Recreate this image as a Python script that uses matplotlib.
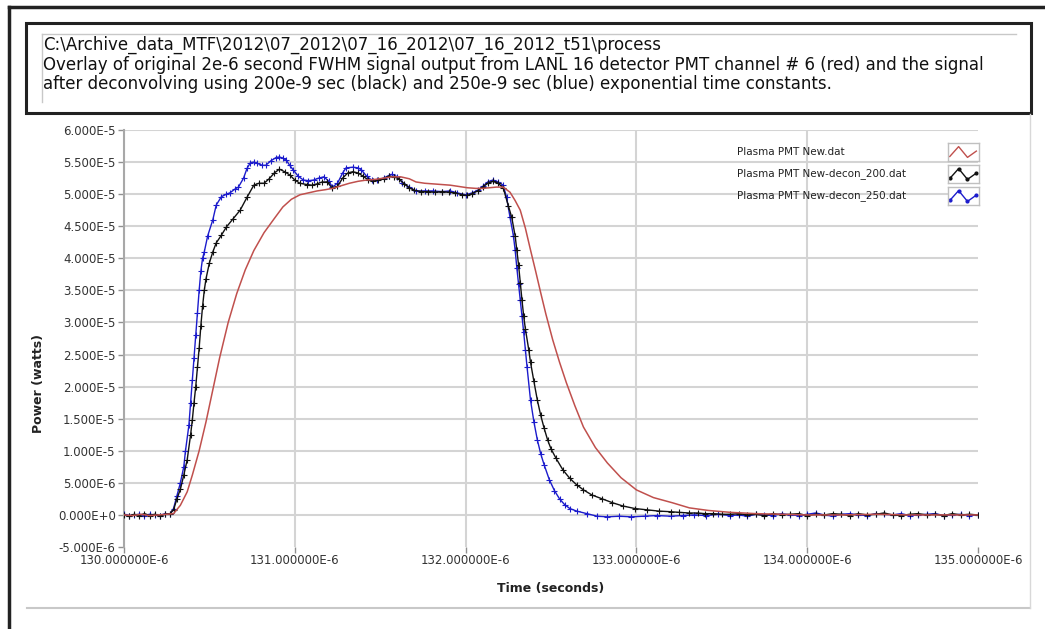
import numpy as np
import matplotlib
matplotlib.use('Agg')
import matplotlib.pyplot as plt
from matplotlib.patches import Rectangle
from matplotlib.lines import Line2D

# judul dan label
title_lines = [
    r'C:\Archive_data_MTF\2012\07_2012\07_16_2012\07_16_2012_t51\process',
    'Overlay of original 2e-6 second FWHM signal output from LANL 16 detector PMT channel # 6 (red) and the signal',
    'after deconvolving using 200e-9 sec (black) and 250e-9 sec (blue) exponential time constants.',
]
series_names = ['Plasma PMT New.dat', 'Plasma PMT New-decon_200.dat', 'Plasma PMT New-decon_250.dat']

x_ticks_us = [130, 131, 132, 133, 134, 135]
x_tick_labels = ['130.000000E-6', '131.000000E-6', '132.000000E-6',
                 '133.000000E-6', '134.000000E-6', '135.000000E-6']
y_ticks = [-5e-6, 0, 5e-6, 1e-5, 1.5e-5, 2e-5, 2.5e-5, 3e-5, 3.5e-5,
           4e-5, 4.5e-5, 5e-5, 5.5e-5, 6e-5]
y_tick_labels = ['-5.000E-6', '0.000E+0', '5.000E-6', '1.000E-5', '1.500E-5',
                 '2.000E-5', '2.500E-5', '3.000E-5', '3.500E-5', '4.000E-5',
                 '4.500E-5', '5.000E-5', '5.500E-5', '6.000E-5']

# sinyal asli (merah): waktu dalam mikrodetik, daya dalam 1e-5 W
red_t = [130.00, 130.05, 130.10, 130.15, 130.20, 130.25, 130.29, 130.33, 130.37, 130.40,
         130.44, 130.48, 130.52, 130.56, 130.61, 130.66, 130.71, 130.76, 130.82, 130.88,
         130.93, 130.98, 131.03, 131.08, 131.13, 131.18, 131.22, 131.27, 131.32, 131.37,
         131.42, 131.47, 131.52, 131.57, 131.62, 131.67, 131.71, 131.76, 131.81, 131.86,
         131.91, 131.96, 132.01, 132.06, 132.10, 132.14, 132.18, 132.22, 132.26, 132.29,
         132.32, 132.35, 132.38, 132.41, 132.44, 132.47, 132.51, 132.55, 132.59, 132.64,
         132.69, 132.76, 132.83, 132.91, 133.00, 133.10, 133.21, 133.31, 133.42, 133.55,
         133.70, 133.85, 134.00, 134.20, 134.40, 134.60, 134.80, 135.00]
red_p = [0.00, -0.01, 0.01, -0.01, 0.00, 0.01, 0.02, 0.15, 0.36, 0.62,
         1.00, 1.45, 1.95, 2.45, 3.00, 3.45, 3.82, 4.12, 4.40, 4.62,
         4.80, 4.92, 4.99, 5.02, 5.05, 5.07, 5.09, 5.13, 5.17, 5.20,
         5.22, 5.23, 5.25, 5.27, 5.27, 5.24, 5.19, 5.17, 5.16, 5.15,
         5.14, 5.12, 5.10, 5.09, 5.09, 5.10, 5.11, 5.11, 5.03, 4.90,
         4.75, 4.47, 4.13, 3.80, 3.46, 3.13, 2.73, 2.38, 2.06, 1.70,
         1.37, 1.05, 0.81, 0.58, 0.39, 0.27, 0.19, 0.11, 0.07, 0.04,
         0.02, 0.01, 0.00, 0.00, 0.01, 0.00, 0.00, 0.00]

# dekonvolusi 200e-9 (hitam)
black_t = [130.00, 130.03, 130.06, 130.09, 130.12, 130.15, 130.18, 130.21, 130.24, 130.27,
           130.29, 130.31, 130.33, 130.35, 130.37, 130.39, 130.40, 130.41, 130.42, 130.43,
           130.44, 130.45, 130.46, 130.47, 130.48, 130.50, 130.52, 130.54, 130.57, 130.60,
           130.64, 130.68, 130.72, 130.76, 130.79, 130.82, 130.85, 130.88, 130.91, 130.94,
           130.97, 131.00, 131.03, 131.07, 131.10, 131.13, 131.16, 131.19, 131.22, 131.25,
           131.28, 131.31, 131.34, 131.37, 131.40, 131.43, 131.46, 131.49, 131.52, 131.55,
           131.58, 131.61, 131.64, 131.67, 131.70, 131.74, 131.78, 131.82, 131.86, 131.90,
           131.94, 131.98, 132.01, 132.04, 132.07, 132.10, 132.13, 132.16, 132.19, 132.22,
           132.25, 132.27, 132.29, 132.30, 132.31, 132.32, 132.33, 132.34, 132.35, 132.37,
           132.38, 132.40, 132.42, 132.44, 132.46, 132.48, 132.50, 132.53, 132.57, 132.61,
           132.65, 132.69, 132.74, 132.80, 132.86, 132.92, 132.99, 133.06, 133.13, 133.20,
           133.25, 133.31, 133.36, 133.40, 133.45, 133.50,
           133.55, 133.60, 133.65, 133.70, 133.75, 133.80, 133.85, 133.90, 133.95, 134.00,
           134.05, 134.10, 134.15, 134.20, 134.25, 134.30, 134.35, 134.40, 134.45, 134.50,
           134.55, 134.60, 134.65, 134.70, 134.75, 134.80, 134.85, 134.90, 134.95, 135.00]
black_p = [0.00, -0.02, 0.01, -0.01, 0.02, -0.01, 0.01, -0.02, 0.01, 0.02,
           0.08, 0.25, 0.40, 0.62, 0.86, 1.25, 1.48, 1.75, 2.00, 2.30,
           2.60, 2.95, 3.25, 3.50, 3.68, 3.93, 4.10, 4.24, 4.36, 4.49,
           4.62, 4.75, 4.95, 5.14, 5.17, 5.17, 5.24, 5.33, 5.39, 5.35,
           5.30, 5.22, 5.17, 5.15, 5.14, 5.16, 5.19, 5.19, 5.09, 5.12,
           5.25, 5.33, 5.35, 5.33, 5.28, 5.22, 5.20, 5.22, 5.24, 5.28,
           5.27, 5.24, 5.16, 5.10, 5.06, 5.04, 5.04, 5.03, 5.04, 5.03,
           5.02, 4.99, 4.98, 5.01, 5.05, 5.11, 5.17, 5.20, 5.17, 5.10,
           4.82, 4.64, 4.35, 4.13, 3.90, 3.62, 3.35, 3.10, 2.90, 2.57,
           2.38, 2.08, 1.79, 1.55, 1.35, 1.17, 1.03, 0.88, 0.70, 0.57,
           0.47, 0.39, 0.31, 0.25, 0.19, 0.14, 0.10, 0.08, 0.06, 0.05,
           0.04, 0.03, 0.03, 0.02, 0.02, 0.01,
           0.01, 0.02, 0.00, 0.01, -0.01, 0.02, 0.00, 0.01, 0.02, -0.01,
           0.01, 0.00, 0.02, 0.01, -0.01, 0.02, 0.00, 0.01, 0.03, 0.00,
           -0.01, 0.01, 0.02, 0.00, 0.01, -0.01, 0.02, 0.00, 0.01, 0.00]

# dekonvolusi 250e-9 (biru)
blue_t = [130.00, 130.03, 130.06, 130.09, 130.12, 130.15, 130.18, 130.21, 130.24, 130.27,
          130.29, 130.31, 130.33, 130.35, 130.36, 130.38, 130.39, 130.40, 130.41, 130.42,
          130.43, 130.44, 130.45, 130.46, 130.47, 130.49, 130.52, 130.54, 130.57, 130.60,
          130.62, 130.65, 130.67, 130.70, 130.72, 130.74, 130.76, 130.78, 130.81, 130.83,
          130.86, 130.89, 130.91, 130.93, 130.95, 130.97, 130.99, 131.02, 131.05, 131.08,
          131.11, 131.14, 131.17, 131.20, 131.22, 131.25, 131.28, 131.30, 131.34, 131.37,
          131.39, 131.42, 131.45, 131.48, 131.52, 131.55, 131.57, 131.60, 131.63, 131.67,
          131.71, 131.76, 131.81, 131.86, 131.91, 131.95, 132.00, 132.04, 132.07, 132.10,
          132.13, 132.16, 132.19, 132.22, 132.24, 132.26, 132.28, 132.29, 132.30, 132.31,
          132.32, 132.33, 132.34, 132.35, 132.36, 132.38, 132.40, 132.42, 132.44, 132.46,
          132.49, 132.52, 132.55, 132.58, 132.61, 132.65, 132.71, 132.77, 132.83, 132.90,
          132.97, 133.05, 133.12, 133.20, 133.27, 133.34, 133.41, 133.48,
          133.55, 133.60, 133.65, 133.70, 133.75, 133.80, 133.85, 133.90, 133.95, 134.00,
          134.05, 134.10, 134.15, 134.20, 134.25, 134.30, 134.35, 134.40, 134.45, 134.50,
          134.55, 134.60, 134.65, 134.70, 134.75, 134.80, 134.85, 134.90, 134.95, 135.00]
blue_p = [0.01, -0.01, 0.00, 0.01, -0.01, 0.01, 0.00, -0.01, 0.02, 0.01,
          0.10, 0.30, 0.50, 0.75, 1.00, 1.40, 1.75, 2.10, 2.45, 2.80,
          3.15, 3.50, 3.80, 4.00, 4.10, 4.35, 4.60, 4.83, 4.96, 5.00,
          5.02, 5.08, 5.11, 5.25, 5.40, 5.49, 5.50, 5.48, 5.45, 5.45,
          5.52, 5.57, 5.58, 5.56, 5.53, 5.45, 5.38, 5.28, 5.22, 5.21,
          5.22, 5.25, 5.27, 5.20, 5.11, 5.17, 5.33, 5.41, 5.42, 5.41,
          5.38, 5.28, 5.22, 5.22, 5.25, 5.29, 5.31, 5.27, 5.18, 5.11,
          5.05, 5.05, 5.05, 5.04, 5.05, 5.02, 4.99, 5.02, 5.06, 5.12,
          5.19, 5.22, 5.19, 5.14, 4.95, 4.64, 4.35, 4.13, 3.85, 3.60,
          3.35, 3.10, 2.85, 2.57, 2.30, 1.79, 1.45, 1.17, 0.95, 0.78,
          0.55, 0.38, 0.25, 0.16, 0.10, 0.06, 0.02, -0.02, -0.03, -0.02,
          -0.03, -0.02, -0.01, -0.02, -0.01, 0.00, -0.01, 0.01,
          -0.01, 0.00, -0.02, 0.01, 0.00, -0.01, 0.02, 0.00, -0.01, 0.01,
          0.03, 0.00, -0.02, 0.01, 0.02, 0.00, -0.01, 0.02, 0.01, 0.00,
          0.02, -0.01, 0.00, 0.01, 0.02, -0.01, 0.00, 0.01, -0.01, 0.00]

red_color = '#c0504d'
black_color = '#111111'
blue_color = '#1c1ccc'

W, H = 1045, 629
fig = plt.figure(figsize=(W / 100, H / 100), dpi=100)
fig.patch.set_facecolor('white')


def fx(x):
    return x / W


def fy(y):
    return 1 - y / H


# bingkai luar
fig.add_artist(Line2D([fx(9), 1], [fy(7), fy(7)], color='#222222', lw=2.5))
fig.add_artist(Line2D([fx(9), fx(9)], [fy(7), 0], color='#222222', lw=2.5))

# kotak judul
fig.add_artist(Rectangle((fx(26), fy(113)), fx(1031) - fx(26), fy(23) - fy(113),
                         fill=False, ec='#222222', lw=2.2))
fig.add_artist(Line2D([fx(42), fx(1016)], [fy(34), fy(34)], color='#c8c8c8', lw=1))
fig.add_artist(Line2D([fx(42), fx(42)], [fy(34), fy(102)], color='#c8c8c8', lw=1))
for i, line in enumerate(title_lines):
    fig.text(fx(43), fy(45 + i * 19.5), line, fontsize=12, family='DejaVu Sans',
             color='#111111', va='center', ha='left')

# panel plot
fig.add_artist(Line2D([fx(27), fx(1030)], [fy(608), fy(608)], color='#c8c8c8', lw=1.5))
fig.add_artist(Line2D([fx(1030), fx(1030)], [fy(114), fy(608)], color='#d8d8d8', lw=1))

ax = fig.add_axes([fx(124), fy(547), (978 - 124) / W, (547 - 130) / H])
t_scale = 1e-6
p_scale = 1e-5

ax.plot(np.array(blue_t) * t_scale, np.array(blue_p) * p_scale, color=blue_color,
        lw=1.0, marker='+', ms=4, mew=0.8, zorder=3)
ax.plot(np.array(black_t) * t_scale, np.array(black_p) * p_scale, color=black_color,
        lw=1.0, marker='+', ms=4, mew=0.8, zorder=4)
ax.plot(np.array(red_t) * t_scale, np.array(red_p) * p_scale, color=red_color,
        lw=1.1, zorder=5)

ax.set_xlim(130e-6, 135e-6)
ax.set_ylim(-5e-6, 6e-5)
ax.set_xticks([v * t_scale for v in x_ticks_us])
ax.set_xticklabels(x_tick_labels, fontsize=8.5, color='#333333')
ax.set_yticks(y_ticks)
ax.set_yticklabels(y_tick_labels, fontsize=8.5, color='#333333')
ax.tick_params(axis='both', direction='out', length=4, width=1, color='#909090', pad=2)
ax.tick_params(axis='x', pad=1)

ax.grid(True, color='#d4d4d4', lw=1.5, zorder=0)
ax.set_axisbelow(True)
ax.xaxis.get_gridlines()[-1].set_visible(False)
ax.yaxis.get_gridlines()[0].set_visible(False)
for s in ['top', 'right', 'bottom']:
    ax.spines[s].set_visible(False)
ax.spines['left'].set_color('#a8a8a8')
ax.spines['left'].set_linewidth(1.5)

ax.set_xlabel('Time (seconds)', fontsize=9, fontweight='bold', color='#222222')
ax.set_ylabel('Power (watts)', fontsize=9, fontweight='bold', color='#222222')
ax.xaxis.set_label_coords(0.5, -0.085)
ax.yaxis.set_label_coords(-0.093, 0.393)

# legenda manual: teks di kiri, contoh garis di kotak kanan
legend_styles = [
    dict(color=red_color, lw=1.0),
    dict(color=black_color, lw=1.0, marker='.', ms=4),
    dict(color=blue_color, lw=1.0, marker='.', ms=4),
]
zig_x = [0, 1, 2, 3]
zig_y = [0.25, 0.8, 0.2, 0.55]
row_y = [152, 174, 196]
for name, style, yy in zip(series_names, legend_styles, row_y):
    ya = (547 - yy) / 417
    ax.text((737 - 124) / 854, ya, name, transform=ax.transAxes, fontsize=7.5,
            color='#222222', va='center', ha='left', zorder=6)
    box = ax.inset_axes([(948 - 124) / 854, ya - 9 / 417, 31 / 854, 18 / 417])
    box.plot(zig_x, zig_y, **style)
    box.set_xlim(-0.2, 3.3)
    box.set_ylim(0, 1)
    box.set_xticks([])
    box.set_yticks([])
    box.set_facecolor('white')
    for s in box.spines.values():
        s.set_color('#c0c0c0')
        s.set_linewidth(1)

fig.savefig('out.png', dpi=100)
